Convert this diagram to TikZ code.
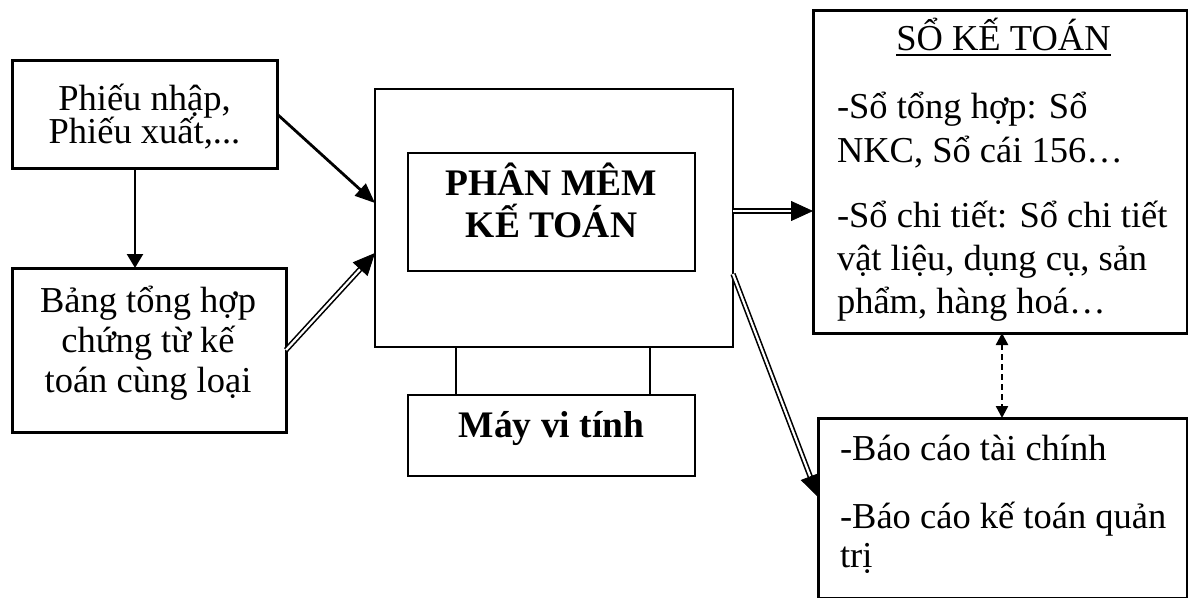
\documentclass[tikz,border=0pt]{standalone}
\usepackage{fontspec}
\setmainfont{Liberation Serif}
\usetikzlibrary{arrows.meta,calc}
\begin{document}
\begin{tikzpicture}[x=1pt,y=-1pt,
  box/.style={draw, rectangle, inner sep=0pt, outer sep=0pt, anchor=north west},
  heavy/.style={box, line width=3pt},
  light/.style={box, line width=1.3pt},
  txt/.style={inner sep=0pt, outer sep=0pt, font=\fontsize{36.5}{40}\selectfont},
  ctxt/.style={txt, anchor=base},
  ltxt/.style={txt, anchor=base west},
  btxt/.style={ctxt, font=\fontsize{37.5}{40}\selectfont\bfseries},
  solidarrow/.style={line width=2.8pt, -{Triangle[length=20pt,width=16pt]}},
  downarrow/.style={line width=2.5pt, -{Triangle[length=14pt,width=16pt]}},
  dblline/.style={double, double distance=2.2pt, line width=1.6pt},
  tipfill/.style={line width=0.8pt, -{Triangle[length=22pt,width=20pt]}},
  dasharrow/.style={line width=2.4pt, dash pattern=on 6pt off 4pt,
    {Triangle[length=12pt,width=12pt]}-{Triangle[length=12pt,width=12pt]}}
]
\fill[white] (0,0) rectangle (1188,597);
\useasboundingbox (0,0) rectangle (1188,597);

% source documents
\node[heavy, minimum width=265pt, minimum height=108pt] (phieu) at (12,60) {};
\node[heavy, minimum width=274pt, minimum height=164pt] (bang) at (12,268) {};
\node[ctxt] (p1) at (144.5,110) {Phiếu nhập,};
\node[ctxt] (p2) at (144.5,143) {Phiếu xuất,...};
\node[ctxt] (b1) at (148,312) {Bảng tổng hợp};
\node[ctxt] (b2) at (148,352) {chứng từ kế};
\node[ctxt] (b3) at (148,392) {toán cùng loại};

% computer with the accounting software
\node[light, minimum width=358pt, minimum height=258pt] (pc) at (375,89) {};
\node[light, minimum width=287pt, minimum height=118pt] (pm) at (408,153) {};
\node[light, minimum width=287pt, minimum height=81pt] (mvt) at (408,395) {};
\node[btxt] (pm1) at (551.5,195) {PHÂN MÊM};
\node[btxt] (pm2) at (551.5,237) {KẾ TOÁN};
\node[btxt] (mvt1) at (551.5,437) {Máy vi tính};
\coordinate (legL) at (456,0);
\coordinate (legR) at (650,0);
\draw[line width=1.3pt] (pc.south -| legL) -- (mvt.north -| legL);
\draw[line width=1.3pt] (pc.south -| legR) -- (mvt.north -| legR);

% accounting books
\node[heavy, minimum width=374pt, minimum height=323pt] (so) at (813,10) {};
\node[ctxt] (title) at (1003.5,50) {SỔ KẾ TOÁN};
\draw[line width=1.3pt] ([yshift=-5pt]title.base west) -- ([yshift=-5pt]title.base east);
\node[ltxt] (s1) at (837,118) {-Sổ tổng hợp: Sổ};
\node[ltxt] (s2) at (837,162) {NKC, Sổ cái 156…};
\node[ltxt] (s3) at (837,227) {-Sổ chi tiết: Sổ chi tiết};
\node[ltxt] (s4) at (837,270) {vật liệu, dụng cụ, sản};
\node[ltxt] (s5) at (837,313) {phẩm, hàng hoá…};

% reports
\node[heavy, minimum width=369pt, minimum height=180pt] (bc) at (818,418) {};
\node[ltxt] (r1) at (840,460) {-Báo cáo tài chính};
\node[ltxt] (r2) at (840,528) {-Báo cáo kế toán quản};
\node[ltxt] (r3) at (840,567) {trị};

% connectors
\coordinate (vx) at (135,0);
\draw[downarrow] (phieu.south -| vx) -- (bang.north -| vx);

\coordinate (inA) at (pc.west |- 0,203);
\draw[solidarrow] (phieu.east) -- (inA);

\coordinate (inB) at (pc.west |- 0,253);
\draw[dblline, shorten >=18pt] (bang.east) -- (inB);
\draw[tipfill] ($(inB)!20pt!(bang.east)$) -- (inB);

\coordinate (outA) at (pc.east |- 0,211);
\coordinate (toSo) at (so.west |- 0,211);
\draw[dblline, shorten >=18pt] (outA) -- (toSo);
\draw[tipfill] ($(toSo)!20pt!(outA)$) -- (toSo);

\coordinate (outB) at (pc.east |- 0,274);
\coordinate (toBc) at (bc.west |- 0,497);
\draw[dblline, shorten >=18pt] (outB) -- (toBc);
\draw[tipfill] ($(toBc)!20pt!(outB)$) -- (toBc);

\coordinate (dx) at (1002,0);
\draw[dasharrow] (so.south -| dx) -- (bc.north -| dx);
\end{tikzpicture}
\end{document}
